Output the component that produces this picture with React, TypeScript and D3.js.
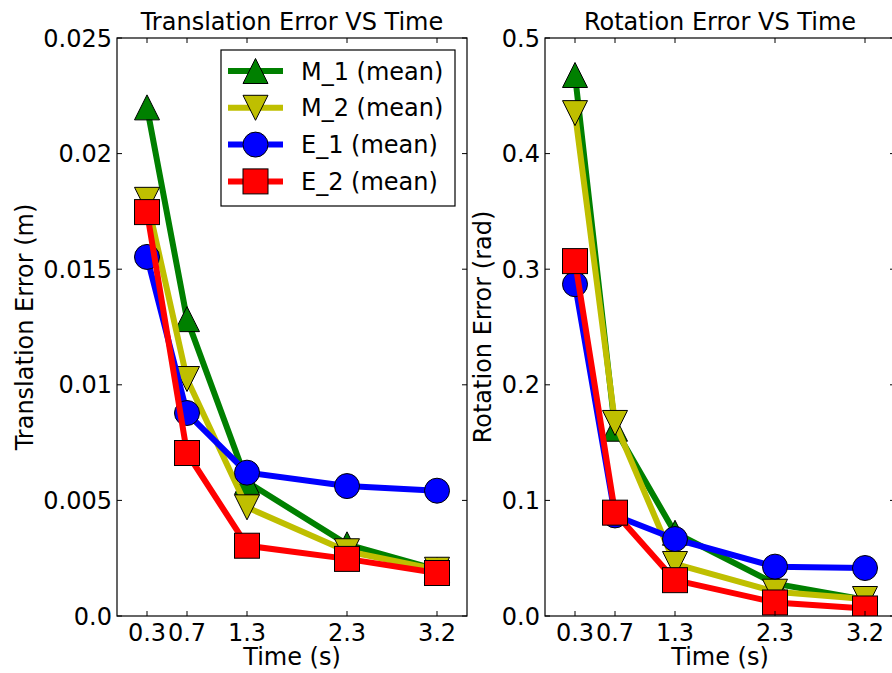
import React from "react";
import * as d3 from "d3";

const times = [0.3, 0.7, 1.3, 2.3, 3.2];
const xTickLabels = ["0.3", "0.7", "1.3", "2.3", "3.2"];

const transM1 = [0.022, 0.01284, 0.0058, 0.0031, 0.002];
const transM2 = [0.018, 0.01025, 0.0047, 0.0028, 0.002];
const transE1 = [0.01553, 0.00878, 0.0062, 0.00562, 0.00542];
const transE2 = [0.01747, 0.00705, 0.00304, 0.00247, 0.00186];

const rotM1 = [0.468, 0.162, 0.072, 0.028, 0.014];
const rotM2 = [0.435, 0.167, 0.045, 0.021, 0.0147];
const rotE1 = [0.287, 0.087, 0.0666, 0.0427, 0.0415];
const rotE2 = [0.307, 0.0894, 0.031, 0.0117, 0.0065];

const transTicks = [0, 0.005, 0.01, 0.015, 0.02, 0.025];
const transTickLabels = ["0.0", "0.005", "0.01", "0.015", "0.02", "0.025"];
const rotTicks = [0, 0.1, 0.2, 0.3, 0.4, 0.5];
const rotTickLabels = ["0.0", "0.1", "0.2", "0.3", "0.4", "0.5"];

const seriesNames = ["M_1 (mean)", "M_2 (mean)", "E_1 (mean)", "E_2 (mean)"];
const seriesColors = ["#008000", "#bfbf00", "#0000ff", "#ff0000"];
const seriesMarkers = ["triangleUp", "triangleDown", "circle", "square"];

const FONT = "DejaVu Sans, sans-serif";
const FS = 24;
const MS = 25; // marker size px

function Marker({ type, x, y, color }: { type: string; x: number; y: number; color: string }) {
  const h = MS / 2;
  const common = { fill: color, stroke: "#000", strokeWidth: 1 };
  if (type === "circle") return <circle cx={x} cy={y} r={h} {...common} />;
  if (type === "square") return <rect x={x - h} y={y - h} width={MS} height={MS} {...common} />;
  if (type === "triangleUp")
    return <path d={`M${x},${y - h}L${x - h},${y + h}L${x + h},${y + h}Z`} {...common} />;
  return <path d={`M${x},${y + h}L${x - h},${y - h}L${x + h},${y - h}Z`} {...common} />;
}

function Panel({
  id, left, top, width, height, yMax, yTicks, yTickLabels, series, title, yLabel, yLabelX, legend,
}: any) {
  const x = d3.scaleLinear().domain([0, 3.5]).range([left, left + width]);
  const y = d3.scaleLinear().domain([0, yMax]).range([top + height, top]);
  const line = d3.line<number>().x((_, i) => x(times[i])).y((d) => y(d));
  const tl = 5;
  return (
    <g>
      <defs>
        <clipPath id={id}>
          <rect x={left} y={top} width={width} height={height} />
        </clipPath>
      </defs>
      <g clipPath={`url(#${id})`}>
        {series.map((s: number[], si: number) => (
          <g key={si}>
            <path d={line(s) || ""} fill="none" stroke={seriesColors[si]} strokeWidth={6} strokeLinejoin="round" />
            {s.map((v, i) => (
              <Marker key={i} type={seriesMarkers[si]} x={x(times[i])} y={y(v)} color={seriesColors[si]} />
            ))}
          </g>
        ))}
      </g>
      <rect x={left} y={top} width={width} height={height} fill="none" stroke="#000" strokeWidth={1.2} />
      {times.map((t, i) => (
        <g key={i}>
          <line x1={x(t)} x2={x(t)} y1={top + height} y2={top + height - tl} stroke="#000" />
          <line x1={x(t)} x2={x(t)} y1={top} y2={top + tl} stroke="#000" />
          <text x={x(t)} y={top + height + 25} fontSize={FS} fontFamily={FONT} textAnchor="middle">
            {xTickLabels[i]}
          </text>
        </g>
      ))}
      {yTicks.map((t: number, i: number) => (
        <g key={i}>
          <line x1={left} x2={left + tl} y1={y(t)} y2={y(t)} stroke="#000" />
          <line x1={left + width} x2={left + width - tl} y1={y(t)} y2={y(t)} stroke="#000" />
          <text x={left - 5} y={y(t)} dy="0.36em" fontSize={FS} fontFamily={FONT} textAnchor="end">
            {yTickLabels[i]}
          </text>
        </g>
      ))}
      <text x={left + width / 2} y={top - 8} fontSize={FS} fontFamily={FONT} textAnchor="middle">
        {title}
      </text>
      <text x={left + width / 2} y={top + height + 49} fontSize={FS} fontFamily={FONT} textAnchor="middle">
        Time (s)
      </text>
      <text
        transform={`translate(${yLabelX},${top + height / 2}) rotate(-90)`}
        fontSize={FS}
        fontFamily={FONT}
        textAnchor="middle"
        dy="0.36em"
      >
        {yLabel}
      </text>
      {legend && (
        <g>
          <rect x={221} y={50} width={234} height={156} fill="#fff" stroke="#000" strokeWidth={1.2} />
          {seriesNames.map((n, i) => {
            const cy = 71 + i * 36.8;
            return (
              <g key={i}>
                <line x1={228} x2={283} y1={cy} y2={cy} stroke={seriesColors[i]} strokeWidth={6} />
                <Marker type={seriesMarkers[i]} x={255.5} y={cy} color={seriesColors[i]} />
                <text x={301} y={cy} dy="0.36em" fontSize={FS} fontFamily={FONT}>
                  {n}
                </text>
              </g>
            );
          })}
        </g>
      )}
    </g>
  );
}

export default function App() {
  return (
    <svg
      width={892}
      height={673}
      style={{ position: "absolute", left: 0, top: 0, background: "#fff" }}
    >
      <rect width={892} height={673} fill="#fff" />
      <Panel
        id="clipL"
        left={117}
        top={38}
        width={350}
        height={578}
        yMax={0.025}
        yTicks={transTicks}
        yTickLabels={transTickLabels}
        series={[transM1, transM2, transE1, transE2]}
        title="Translation Error VS Time"
        yLabel="Translation Error (m)"
        yLabelX={24}
        legend
      />
      <Panel
        id="clipR"
        left={545}
        top={38}
        width={350}
        height={578}
        yMax={0.5}
        yTicks={rotTicks}
        yTickLabels={rotTickLabels}
        series={[rotM1, rotM2, rotE1, rotE2]}
        title="Rotation Error VS Time"
        yLabel="Rotation Error (rad)"
        yLabelX={482}
        legend={false}
      />
    </svg>
  );
}
